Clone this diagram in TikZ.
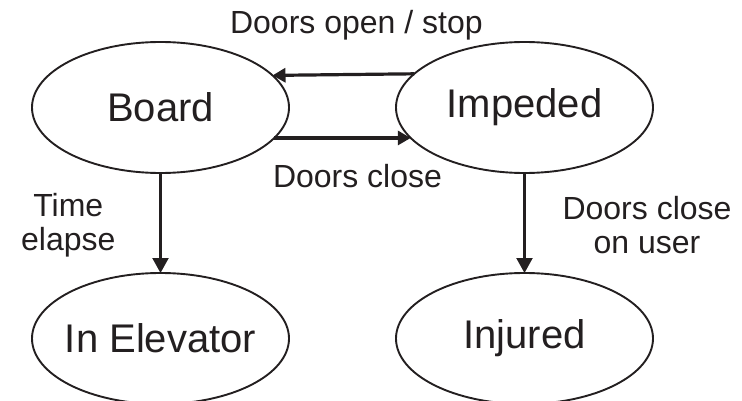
\documentclass[tikz,border=0pt]{standalone}
\usepackage{fontspec}
\setmainfont{Liberation Sans}
\usetikzlibrary{arrows.meta,positioning,shapes.geometric}
\definecolor{ink}{HTML}{231F20}
\tikzset{
  % negative xsep keeps long names from widening the ellipse
  statebox/.style={draw=ink, ellipse, line width=1.9pt, inner ysep=0pt, inner xsep=-12pt,
    outer sep=0pt, minimum width=257pt, minimum height=131pt, text=ink,
    font=\fontsize{40}{42}\selectfont},
  wire/.style={-{Triangle[length=15pt,width=16pt]}, line width=2.1pt, draw=ink},
  heavywire/.style={wire, line width=3.2pt, -{Triangle[length=13pt,width=14pt]}},
  labelbox/.style={inner sep=0pt, text=ink, align=center,
    font=\fontsize{32}{34}\selectfont}
}

\begin{document}
\begin{tikzpicture}[x=1pt, y=-1pt, node distance=100pt and 107pt]
  \useasboundingbox (0,0) rectangle (742,401);
  \node[statebox] (board) at (160.5,107.5) {Board};
  \node[statebox, right=of board] (impeded) {Impeded};
  \node[statebox, below=of board] (elevator) {In Elevator};
  \node[statebox, below=of impeded] (injured) {Injured};
  \draw[heavywire] (impeded.163.8) --
    node[labelbox, above=33pt, xshift=13pt]{Doors open / stop} (board.16.2);
  \draw[heavywire] (board.-15.6) --
    node[labelbox, below=25pt, xshift=15pt]{Doors close} (impeded.195.6);
  \draw[wire] (board) -- node[labelbox, left=44pt, yshift=-2pt]{Time\\elapse} (elevator);
  \draw[wire] (impeded) -- node[labelbox, right=37pt, yshift=-2pt]{Doors close\\on user} (injured);
\end{tikzpicture}
\end{document}
